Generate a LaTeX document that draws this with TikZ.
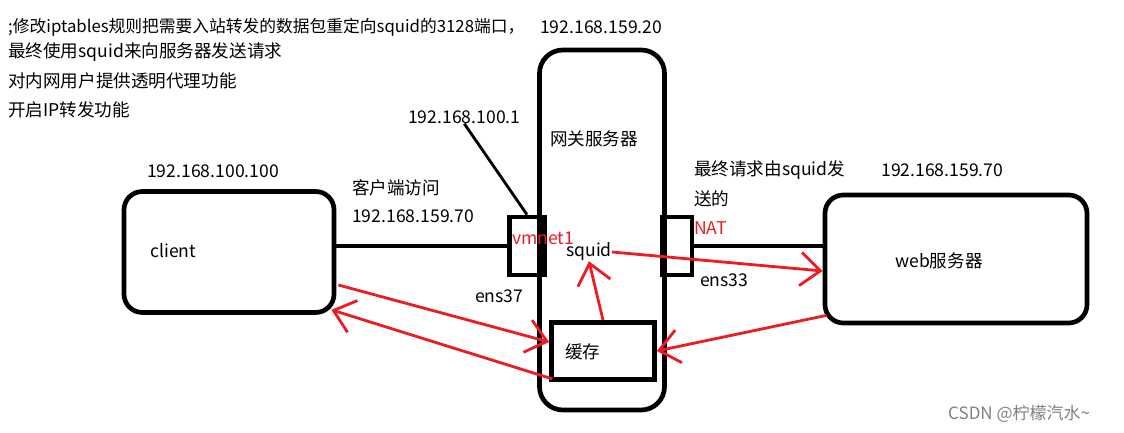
\documentclass[tikz,border=0pt]{standalone}
\usepackage{fontspec}
\setmainfont{Noto Sans CJK SC}
\usetikzlibrary{arrows.meta,calc}
\definecolor{paintred}{HTML}{ED1C24}
\begin{document}
\begin{tikzpicture}[x=0.03cm, y=-0.03cm, font=\fontsize{15}{18}\selectfont,
  box/.style={draw, line width=4pt, rounded corners=0.55cm, inner sep=0pt},
  port/.style={draw, line width=4pt, inner sep=0pt, minimum height=1.74cm},
  txt/.style={anchor=west, inner sep=0pt},
  flow/.style={draw=paintred, line width=2.4pt, -{Straight Barb[length=6mm,width=10mm]}}]
  \useasboundingbox (0,0) rectangle (1124,433);
  \node[box, minimum width=3.75cm, minimum height=10.8cm, rounded corners=0.7cm] (gw) at (602,230) {};
  \node[box, minimum width=6.3cm, minimum height=3.63cm] (client) at (229,252) {};
  \node[box, minimum width=7.86cm, minimum height=3.84cm] (web) at (956,259) {};
  \node[draw, line width=4pt, minimum width=3.09cm, minimum height=1.71cm] (cache) at (603,351) {};
  \node[port, minimum width=1.05cm] (vm) at (527,246) {};
  \node[port, minimum width=0.9cm] (nat) at (677,246) {};

  \node[txt, font=\fontsize{14.3}{17}\selectfont] (note1) at (8,27) {;修改iptables规则把需要入站转发的数据包重定向squid的3128端口，};
  \node[txt] (note2) at (8,52) {最终使用squid来向服务器发送请求};
  \node[txt] (note3) at (8,81) {对内网用户提供透明代理功能};
  \node[txt] (note4) at (8,110) {开启IP转发功能};
  \node[txt] (gwip) at (540,27) {192.168.159.20};
  \node[txt] (vmip) at (408,117) {192.168.100.1};
  \node[txt] (gwname) at (550,139) {网关服务器};
  \node[txt, text=paintred] (vmname) at (512,238) {vmnet1};
  \node[txt] (req1) at (352,188) {客户端访问};
  \node[txt] (req2) at (352,216) {192.168.159.70};
  \node[txt] (clientip) at (147,171) {192.168.100.100};
  \node[txt] (clientname) at (150,251) {client};
  \node[txt] (squid) at (566,252) {squid};
  \node[txt, text=paintred] (natname) at (694,228) {NAT};
  \node[txt] (snd1) at (694,170) {最终请求由squid发};
  \node[txt] (snd2) at (694,199) {送的};
  \node[txt] (webip) at (881,170) {192.168.159.70};
  \node[txt] (ens33) at (700,280) {ens33};
  \node[txt] (webname) at (895,261) {web服务器};
  \node[txt] (cachename) at (565,352) {缓存};
  \node[txt] (ens37) at (475,296) {ens37};
  \node[txt, text=gray, font=\fontsize{14.5}{17}\selectfont] (mark) at (948,414) {CSDN @柠檬汽水\textasciitilde};

  \draw[line width=3.4pt] (client.east |- vm.west) -- (vm.west);
  \draw[line width=3.4pt] (nat.east) -- (web.west |- nat.east);
  \draw[line width=2.4pt] (vmip.south) -- (vm.north);

  \draw[flow] (squid.east) -- ($(web.west)+(0,12)$);
  \draw[flow] (cache.north) -- (squid.south);
  \draw[flow] ($(web.south west)+(4,-10)$) -- (cache.east);
  \draw[flow] ($(client.east)+(2,33)$) -- ($(cache.west)+(0,-9)$);
  \draw[flow] ($(cache.south west)+(3,-3)$) -- ($(client.south east)+(-5,-5)$);
\end{tikzpicture}
\end{document}
